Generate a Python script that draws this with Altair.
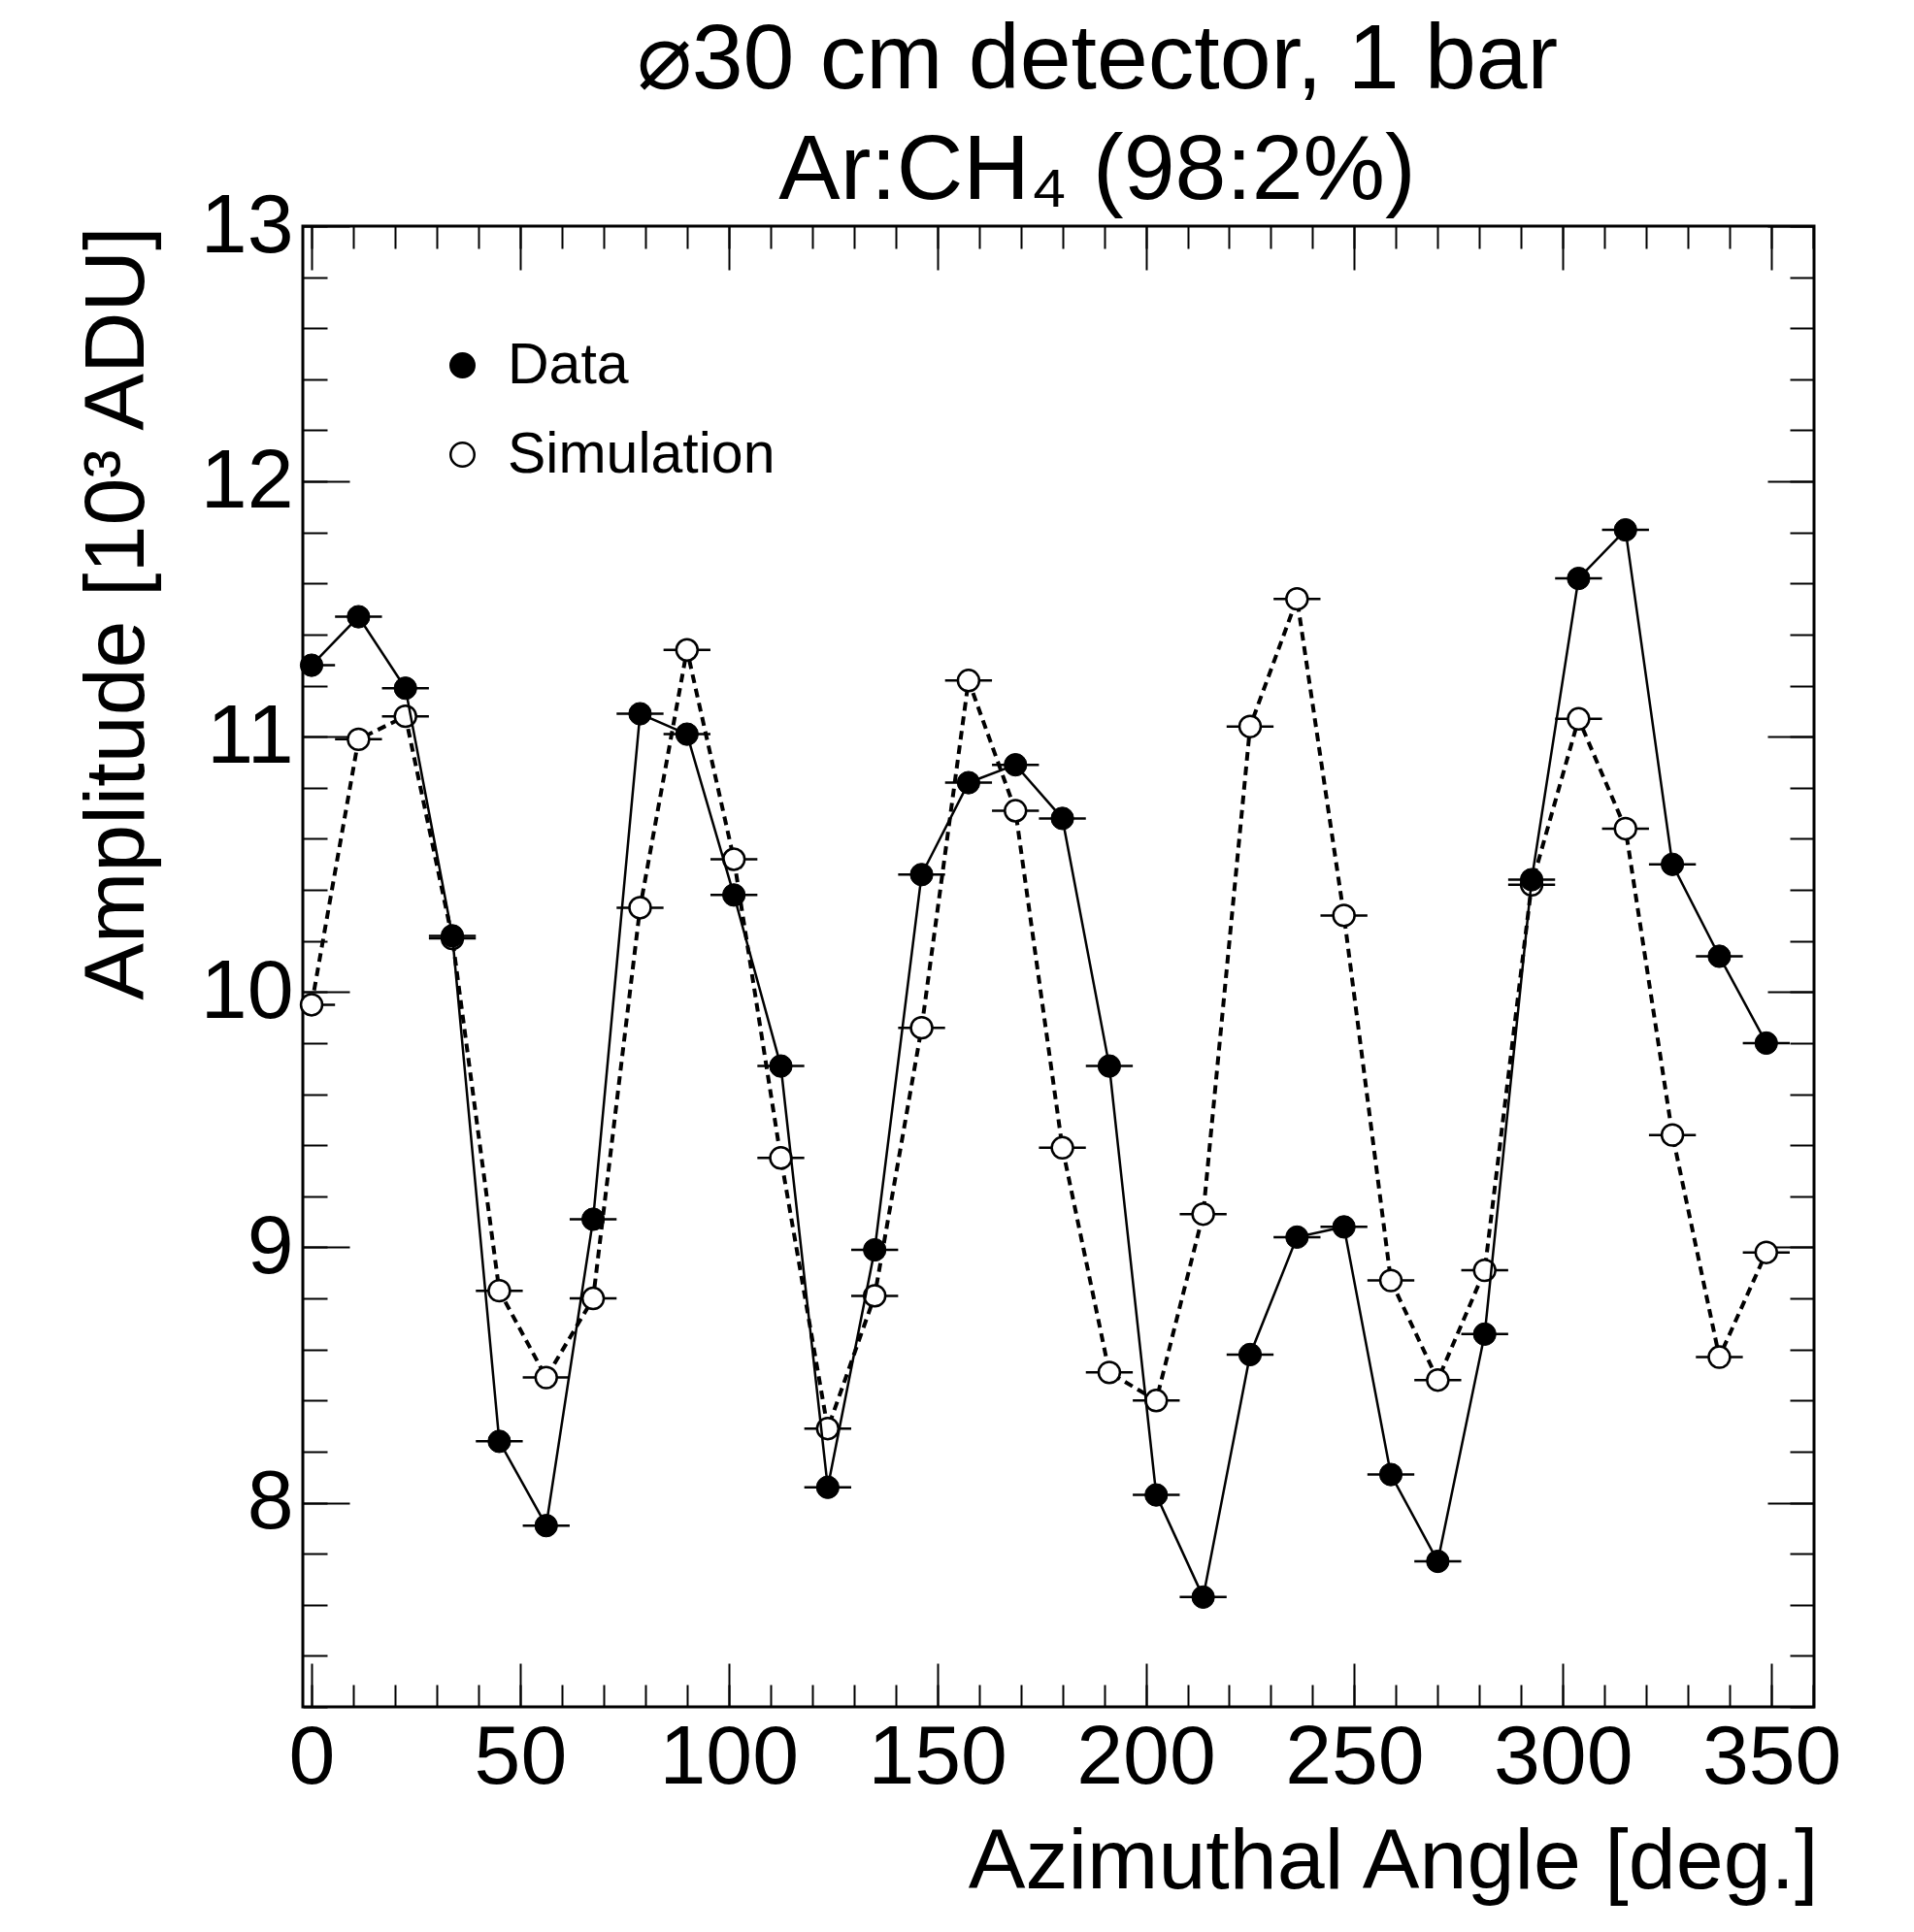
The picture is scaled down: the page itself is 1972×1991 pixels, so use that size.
import altair as alt
import pandas as pd

FONT = "Liberation Sans"

# ---- values ----
angles = [0.0, 11.25, 22.5, 33.75, 45.0, 56.25, 67.5, 78.75, 90.0, 101.25, 112.5, 123.75,
          135.0, 146.25, 157.5, 168.75, 180.0, 191.25, 202.5, 213.75, 225.0, 236.25, 247.5, 258.75,
          270.0, 281.25, 292.5, 303.75, 315.0, 326.25, 337.5, 348.75]
data_amp = [11.28, 11.47, 11.19, 10.22, 8.24, 7.91, 9.11, 11.09, 11.01, 10.38, 9.71, 8.06,
            8.99, 10.46, 10.82, 10.89, 10.68, 9.71, 8.03, 7.63, 8.58, 9.04, 9.08, 8.11,
            7.77, 8.66, 10.44, 11.62, 11.81, 10.50, 10.14, 9.80]
sim_amp = [9.95, 10.99, 11.08, 10.21, 8.83, 8.49, 8.80, 10.33, 11.34, 10.52, 9.35, 8.29,
           8.81, 9.86, 11.22, 10.71, 9.39, 8.51, 8.40, 9.13, 11.04, 11.54, 10.30, 8.87,
           8.48, 8.91, 10.42, 11.07, 10.64, 9.44, 8.57, 8.98]
angle_half_width = 5.625
series_names = ["Data", "Simulation"]

x_major = [0, 50, 100, 150, 200, 250, 300, 350]
x_minor = [0, 10, 20, 30, 40, 50, 60, 70, 80, 90, 100, 110, 120, 130, 140, 150, 160, 170, 180,
           190, 200, 210, 220, 230, 240, 250, 260, 270, 280, 290, 300, 310, 320, 330, 340, 350, 360]
y_major = [8, 9, 10, 11, 12, 13]
y_minor = [7.2, 7.4, 7.6, 7.8, 8.0, 8.2, 8.4, 8.6, 8.8, 9.0, 9.2, 9.4, 9.6, 9.8, 10.0, 10.2,
           10.4, 10.6, 10.8, 11.0, 11.2, 11.4, 11.6, 11.8, 12.0, 12.2, 12.4, 12.6, 12.8, 13.0]

title_lines = ["\u230030 cm detector, 1 bar", "Ar:CH\u2084 (98:2%)"]
x_title = "Azimuthal Angle [deg.]"
y_title = "Amplitude [10\u00b3 ADU]"

# ---- tables ----
def table(amps, name):
    return pd.DataFrame({
        "angle": angles,
        "amp": amps,
        "lo": [a - angle_half_width for a in angles],
        "hi": [a + angle_half_width for a in angles],
        "series": name,
    })

df_data = table(data_amp, series_names[0])
df_sim = table(sim_amp, series_names[1])

W, H = 1557, 1526
x_scale = alt.Scale(domain=[-2.1, 360.2], nice=False, zero=False)
y_scale = alt.Scale(domain=[7.2, 13.0], nice=False, zero=False)
fill_scale = alt.Scale(domain=series_names, range=["black", "white"])

tick_common = dict(domain=False, grid=False, tickColor="black", tickWidth=2,
                   labels=False, title=None)

ax_x_labels = alt.Axis(orient="bottom", values=x_major, ticks=False, tickSize=0,
                       domain=False, grid=False, labels=True, labelFont=FONT,
                       labelFontSize=86, labelColor="black", labelPadding=10,
                       labelFlush=False, labelOverlap=False,
                       title=x_title, titleFont=FONT, titleFontSize=88,
                       titleFontWeight="normal", titleColor="black",
                       titleAlign="right", titleAnchor="end", titleX=1561, titleY=186,
                       titleBaseline="alphabetic")
ax_y_labels = alt.Axis(orient="left", values=y_major, ticks=False, tickSize=0,
                       domain=False, grid=False, labels=True, labelFont=FONT,
                       labelFontSize=86, labelColor="black", labelPadding=10,
                       labelFlush=False, labelOverlap=False, labelBaseline="middle",
                       title=y_title, titleFont=FONT, titleFontSize=88,
                       titleFontWeight="normal", titleColor="black",
                       titleAngle=270, titleAlign="right", titleX=-165, titleY=0,
                       titleBaseline="alphabetic")

# inward ticks, placed on the opposite side with a negative offset
ax_x_bot_major = alt.Axis(orient="top", offset=-H, values=x_major, tickSize=45, **tick_common)
ax_x_bot_minor = alt.Axis(orient="top", offset=-H, values=x_minor, tickSize=23, **tick_common)
ax_x_top_major = alt.Axis(orient="bottom", offset=-H, values=x_major, tickSize=45, **tick_common)
ax_x_top_minor = alt.Axis(orient="bottom", offset=-H, values=x_minor, tickSize=23, **tick_common)
ax_y_left_major = alt.Axis(orient="right", offset=-W, values=y_major, tickSize=48, **tick_common)
ax_y_left_minor = alt.Axis(orient="right", offset=-W, values=y_minor, tickSize=25, **tick_common)
ax_y_right_major = alt.Axis(orient="left", offset=-W, values=y_major, tickSize=48, **tick_common)
ax_y_right_minor = alt.Axis(orient="left", offset=-W, values=y_minor, tickSize=25, **tick_common)

legend = alt.Legend(title=None, orient="none", legendX=135, legendY=114, padding=0,
                    labelFont=FONT, labelFontSize=59, labelColor="black", labelOffset=17,
                    labelLimit=0,
                    symbolType="circle", symbolSize=600, symbolStrokeColor="black",
                    symbolStrokeWidth=2.5, rowPadding=32)


def X(field, axis):
    return alt.X(f"{field}:Q", scale=x_scale, axis=axis)


def Y(axis):
    return alt.Y("amp:Q", scale=y_scale, axis=axis)


sim_line = alt.Chart(df_sim).mark_line(color="black", strokeWidth=4, strokeDash=[9, 6],
                                       clip=True).encode(
    x=X("angle", ax_x_labels), y=Y(ax_y_labels))
sim_err = alt.Chart(df_sim).mark_rule(color="black", strokeWidth=2.5, clip=True).encode(
    x=X("lo", ax_x_bot_major), x2="hi:Q", y=Y(ax_y_left_major))
sim_pts = alt.Chart(df_sim).mark_point(filled=True, shape="circle", size=480, stroke="black",
                                       strokeWidth=2.5, opacity=1).encode(
    x=X("angle", ax_x_bot_minor), y=Y(ax_y_left_minor),
    fill=alt.Fill("series:N", scale=fill_scale, legend=legend))

dat_line = alt.Chart(df_data).mark_line(color="black", strokeWidth=2.5, clip=True).encode(
    x=X("angle", ax_x_top_major), y=Y(ax_y_right_major))
dat_err = alt.Chart(df_data).mark_rule(color="black", strokeWidth=2.5, clip=True).encode(
    x=X("lo", ax_x_top_minor), x2="hi:Q", y=Y(ax_y_right_minor))
dat_pts = alt.Chart(df_data).mark_point(filled=True, shape="circle", size=540, stroke="black",
                                        strokeWidth=1, opacity=1).encode(
    x=X("angle", None), y=Y(None),
    fill=alt.Fill("series:N", scale=fill_scale, legend=legend))

chart = alt.layer(sim_line, sim_err, sim_pts, dat_line, dat_err, dat_pts).resolve_axis(
    x="independent", y="independent"
).properties(
    width=W, height=H,
    title=alt.TitleParams(text=title_lines, font=FONT, fontSize=95, fontWeight="normal",
                          color="black", anchor="middle", dx=40, dy=45, offset=10,
                          lineHeight=114),
    autosize=alt.AutoSizeParams(type="none"),
    padding={"left": 312, "top": 233, "right": 103, "bottom": 232},
    background="white",
).configure(font=FONT).configure_view(stroke="black", strokeWidth=3)

chart.save("out.html", embed_options={"renderer": "svg", "actions": False})
